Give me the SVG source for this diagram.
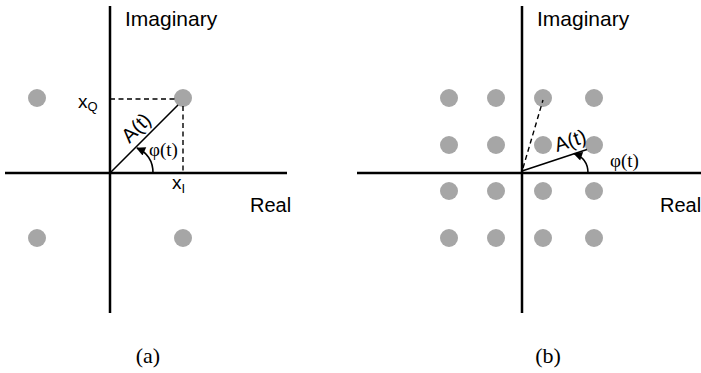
<svg xmlns="http://www.w3.org/2000/svg" width="701" height="373" viewBox="0 0 701 373">
<style>
.ax{stroke:#000;stroke-width:2.5;fill:none}
.vec{stroke:#000;stroke-width:1.6;fill:none}
.dash{stroke:#000;stroke-width:1.4;stroke-dasharray:5,3.5;fill:none}
.dot{fill:#a6a6a6}
.sans{font-family:"Liberation Sans",Arial,sans-serif;fill:#000}
.serif{font-family:"Liberation Serif","Times New Roman",serif;fill:#000}
</style>
<defs>
<marker id="ah" viewBox="0 0 10 10" refX="9" refY="5" markerWidth="11" markerHeight="9" markerUnits="userSpaceOnUse" orient="auto">
<path d="M0,0 L10,5 L0,10 z" fill="#000"/>
</marker>
</defs>
<g id="panel-a">
<g id="a-points">
<circle class="dot" cx="37" cy="98" r="9"/>
<circle class="dot" cx="183" cy="98" r="9"/>
<circle class="dot" cx="37" cy="238" r="9"/>
<circle class="dot" cx="183" cy="238" r="9"/>
</g>
<g id="a-connectors">
<line class="ax" x1="110" y1="6" x2="110" y2="313"/>
<line class="ax" x1="5" y1="173" x2="287" y2="173"/>
<line class="dash" x1="110" y1="99" x2="175" y2="99"/>
<line class="dash" x1="183" y1="106" x2="183" y2="173"/>
<line class="vec" x1="110" y1="173" x2="178" y2="105"/>
<path class="vec" d="M153,173 C153,162 148,153 137,148" marker-end="url(#ah)"/>
</g>
<g id="a-labels">
<text class="sans" x="125" y="26" font-size="21">Imaginary</text>
<text class="sans" x="78" y="108" font-size="19">x<tspan font-size="13" dy="3">Q</tspan></text>
<text class="sans" x="172" y="189" font-size="19">x<tspan font-size="13" dy="4">I</tspan></text>
<text class="sans" x="250" y="212" font-size="20">Real</text>
<text class="sans" font-size="20" transform="translate(129.5,144) rotate(-45)">A(t)</text>
<text class="serif" x="149" y="156" font-size="19">φ(t)</text>
</g>
</g>
<g id="panel-b">
<g id="b-points">
<circle class="dot" cx="449" cy="98" r="9"/>
<circle class="dot" cx="496" cy="98" r="9"/>
<circle class="dot" cx="543" cy="98" r="9"/>
<circle class="dot" cx="594" cy="98" r="9"/>
<circle class="dot" cx="449" cy="145" r="9"/>
<circle class="dot" cx="496" cy="145" r="9"/>
<circle class="dot" cx="543" cy="145" r="9"/>
<circle class="dot" cx="594" cy="145" r="9"/>
<circle class="dot" cx="449" cy="191" r="9"/>
<circle class="dot" cx="496" cy="191" r="9"/>
<circle class="dot" cx="543" cy="191" r="9"/>
<circle class="dot" cx="594" cy="191" r="9"/>
<circle class="dot" cx="449" cy="238" r="9"/>
<circle class="dot" cx="496" cy="238" r="9"/>
<circle class="dot" cx="543" cy="238" r="9"/>
<circle class="dot" cx="594" cy="238" r="9"/>
</g>
<g id="b-connectors">
<line class="ax" x1="522" y1="6" x2="522" y2="313"/>
<line class="ax" x1="357" y1="173" x2="701" y2="173"/>
<line class="dash" x1="523" y1="168" x2="543" y2="100"/>
<line class="vec" x1="522" y1="171" x2="587" y2="149.5"/>
<path class="vec" d="M588,173 C588,164 584,157 574,153.5" marker-end="url(#ah)"/>
</g>
<g id="b-labels">
<text class="sans" x="537" y="26" font-size="21">Imaginary</text>
<text class="sans" x="660" y="212" font-size="20">Real</text>
<text class="sans" font-size="20" transform="translate(557,152) rotate(-18)">A(t)</text>
<text class="serif" x="610" y="167" font-size="19">φ(t)</text>
</g>
</g>
<text class="serif" x="148" y="363" font-size="22" text-anchor="middle">(a)</text>
<text class="serif" x="548" y="363" font-size="22" text-anchor="middle">(b)</text>
</svg>
